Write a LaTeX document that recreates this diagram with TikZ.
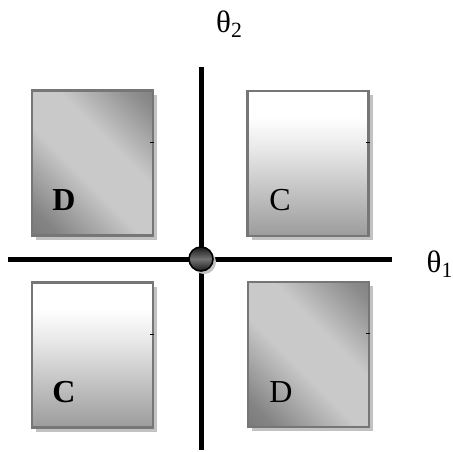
\documentclass[tikz,border=0pt]{standalone}
\usepackage{fontspec}
\setmainfont{Liberation Serif}
\usetikzlibrary{shadows}
\definecolor{boxedge}{RGB}{118,118,118}
\definecolor{boxshade}{RGB}{194,194,194}
\pgfdeclareverticalshading{dquad}{100bp}{color(0bp)=(black!60); color(22bp)=(black!48); color(44bp)=(black!21); color(60bp)=(black!21); color(80bp)=(black!45); color(100bp)=(black!60)}
\pgfdeclareverticalshading{cquad}{100bp}{color(0bp)=(black!40); color(25bp)=(black!39); color(55bp)=(black!9); color(66bp)=(white); color(100bp)=(white)}

\begin{document}
\begin{tikzpicture}[
  x=0.5pt, y=-0.5pt,
  quad/.style={draw=boxedge, line width=1.2pt, minimum width=60.5pt, minimum height=72.5pt, inner sep=0pt,
    drop shadow={shadow xshift=2pt, shadow yshift=-2pt, fill=boxshade, draw=none, opacity=1}},
  cbox/.style={quad, shading=cquad},
  dbox/.style={quad, shading=dquad, shading angle=-45},
  tag/.style={font=\fontsize{16}{19}\selectfont, inner sep=0pt},
  axislabel/.style={font=\fontsize{15.5}{18}\selectfont, inner sep=0pt},
  axisline/.style={line width=2.5pt},
  tick/.style={line width=0.5pt}
]
  \useasboundingbox (0,0) rectangle (453,451);

  % quadrant boxes
  \node[dbox] (tl) at (92.5,163) {};
  \node[cbox] (tr) at (308,163.5) {};
  \node[cbox] (bl) at (92.5,355) {};
  \node[dbox] (br) at (308.5,354.5) {};

  \foreach \b in {tl,tr,bl,br}
    \draw[tick] ([yshift=10.5pt]\b.east) -- ++(-4,0);

  \node[tag] (dtl) at (64,200) {\textbf{D}};
  \node[tag] (ctr) at (280,200) {C};
  \node[tag] (cbl) at (64,392) {\textbf{C}};
  \node[tag] (dbr) at (281,392) {D};

  % axes
  \coordinate (w) at (8,259);
  \coordinate (e) at (392,259);
  \coordinate (n) at (201,67);
  \coordinate (s) at (201,450);
  \draw[axisline] (w) -- (e);
  \draw[axisline] (n) -- (s);

  \node[circle, draw=black, line width=0.8pt, minimum size=12pt, inner sep=0pt,
    top color=black!90, bottom color=black!90, middle color=black!55,
    drop shadow={shadow xshift=1.5pt, shadow yshift=-1.5pt, fill=boxshade, draw=none, opacity=1}] (origin) at (201,259) {};

  \node[axislabel] (t2) at (229.5,24) {θ\textsubscript{2}};
  \node[axislabel] (t1) at (440,264) {θ\textsubscript{1}};
\end{tikzpicture}
\end{document}
